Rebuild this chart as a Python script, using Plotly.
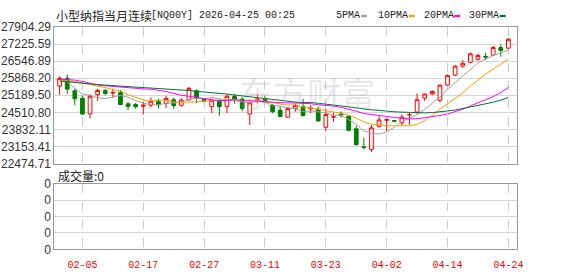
import plotly.graph_objects as go

# ---------------- data ----------------
dates = ["02-02", "02-03", "02-04", "02-05", "02-06", "02-09", "02-10", "02-11", "02-12", "02-13",
         "02-16", "02-17", "02-18", "02-19", "02-20", "02-23", "02-24", "02-25", "02-26", "02-27",
         "03-02", "03-03", "03-04", "03-05", "03-06", "03-09", "03-10", "03-11", "03-12", "03-13",
         "03-16", "03-17", "03-18", "03-19", "03-20", "03-23", "03-24", "03-25", "03-26", "03-27",
         "03-30", "03-31", "04-01", "04-02", "04-03", "04-06", "04-07", "04-08", "04-09", "04-10",
         "04-13", "04-14", "04-15", "04-16", "04-17", "04-20", "04-21", "04-22", "04-23", "04-24"]

open_ = [25555, 25868, 25367, 25076, 24454, 25216, 25378, 25276, 25303, 24850,
         24824, 24756, 24794, 24937, 24861, 25012, 24794, 25012, 25367, 25027,
         24737, 24952, 24748, 25140, 25039, 24447, 25020, 25039, 24786, 24597,
         24322, 24662, 24748, 24650, 24635, 23919, 24322, 24447, 24360, 23859,
         23142, 23040, 23957, 24198, 24183, 24096, 24410, 24522, 25076, 25239,
         24990, 25593, 25993, 26347, 26498, 26622, 26735, 26784, 27086, 27063]

high = [25955, 26019, 25453, 25178, 25227, 25453, 25442, 25453, 25404, 24925,
        24888, 24925, 25103, 25050, 25171, 25095, 25076, 25518, 25427, 25076,
        25057, 25039, 25208, 25239, 25114, 24952, 25227, 25178, 24850, 24718,
        24718, 24850, 25039, 24801, 24737, 24662, 24492, 24548, 24386, 23983,
        23504, 24009, 24360, 24266, 24209, 24424, 24492, 25265, 25265, 25389,
        25616, 26019, 26396, 26584, 26897, 26837, 26875, 27150, 27214, 27463]

low = [25208, 25246, 24794, 24416, 24273, 24963, 25189, 25088, 24794, 24605,
       24650, 24424, 24707, 24662, 24680, 24662, 24737, 24963, 24876, 24907,
       24484, 24379, 24484, 24861, 24548, 24009, 24869, 24888, 24473, 24322,
       24285, 24537, 24341, 24484, 24134, 23757, 24134, 24296, 23757, 23191,
       23040, 22938, 23908, 23757, 24134, 24009, 24021, 24462, 24963, 25201,
       24899, 25567, 25955, 26283, 26460, 26558, 26584, 26747, 26724, 27026]

close = [25857, 25435, 25050, 24447, 25152, 25378, 25265, 25303, 24824, 24748,
         24737, 24794, 24952, 24812, 25065, 24786, 25001, 25465, 25076, 24963,
         24990, 24737, 25152, 25039, 24662, 24888, 25039, 24914, 24537, 24349,
         24662, 24786, 24386, 24673, 24171, 24424, 24341, 24398, 23794, 23229,
         23116, 23896, 24209, 24220, 24160, 24322, 24424, 25012, 25239, 25340,
         25593, 25970, 26347, 26460, 26837, 26773, 26709, 27086, 26973, 27414]

ma5 = [25925, 25717, 25472, 25246, 25188, 25092, 25058, 25109, 25184, 25104,
       24975, 24881, 24811, 24809, 24872, 24882, 24923, 25026, 25079, 25058,
       25099, 25046, 24984, 24976, 24916, 24895, 24956, 24908, 24808, 24745,
       24700, 24650, 24544, 24571, 24536, 24488, 24399, 24401, 24226, 24037,
       23776, 23687, 23649, 23734, 23920, 24162, 24267, 24428, 24631, 24867,
       25122, 25431, 25698, 25942, 26241, 26477, 26625, 26773, 26876, 26991]

ma10 = [25793, 25774, 25736, 25680, 25623, 25548, 25491, 25416, 25359, 25208,
        25095, 25008, 24960, 24996, 24988, 24929, 24902, 24918, 24944, 24965,
        24990, 24985, 25005, 25027, 24987, 24997, 25001, 24946, 24892, 24830,
        24798, 24803, 24726, 24689, 24640, 24594, 24524, 24473, 24398, 24286,
        24132, 24043, 24025, 23980, 23979, 23969, 23977, 24038, 24183, 24394,
        24642, 24849, 25063, 25287, 25554, 25800, 26028, 26235, 26409, 26616]

ma20 = [25830, 25812, 25793, 25736, 25668, 25604, 25567, 25536, 25518, 25491,
        25461, 25442, 25431, 25397, 25340, 25265, 25189, 25152, 25095, 25055,
        25012, 24977, 24982, 25012, 24987, 24963, 24952, 24932, 24918, 24898,
        24894, 24893, 24865, 24858, 24814, 24795, 24763, 24709, 24645, 24558,
        24465, 24423, 24375, 24335, 24309, 24281, 24251, 24256, 24291, 24340,
        24387, 24446, 24544, 24633, 24766, 24884, 25002, 25137, 25296, 25505]

ma30 = [25755, 25725, 25687, 25649, 25631, 25612, 25593, 25574, 25559, 25548,
        25536, 25518, 25499, 25480, 25461, 25435, 25404, 25378, 25348, 25325,
        25303, 25272, 25238, 25201, 25163, 25125, 25091, 25057, 25020, 24981,
        24941, 24919, 24897, 24904, 24872, 24840, 24809, 24779, 24745, 24694,
        24640, 24610, 24585, 24565, 24535, 24520, 24501, 24486, 24491, 24504,
        24524, 24565, 24605, 24652, 24725, 24788, 24843, 24915, 24997, 25099]

volume = [0, 0, 0, 0, 0, 0, 0, 0, 0, 0, 0, 0, 0, 0, 0, 0, 0, 0, 0, 0,
          0, 0, 0, 0, 0, 0, 0, 0, 0, 0, 0, 0, 0, 0, 0, 0, 0, 0, 0, 0,
          0, 0, 0, 0, 0, 0, 0, 0, 0, 0, 0, 0, 0, 0, 0, 0, 0, 0, 0, 0]

price_ticks = [22474.71, 23153.41, 23832.11, 24510.80, 25189.50, 25868.20, 26546.89, 27225.59, 27904.29]
price_tick_labels = ["22474.71", "23153.41", "23832.11", "24510.80", "25189.50",
                     "25868.20", "26546.89", "27225.59", "27904.29"]
vol_ticks = [0, 1, 2, 3, 4]
vol_tick_labels = ["0", "0", "0", "0", "0"]
date_ticks = ["02-05", "02-17", "02-27", "03-11", "03-23", "04-02", "04-14", "04-24"]

ma_names = ["5PMA", "10PMA", "20PMA", "30PMA"]
ma_colors = ["#a0a0a0", "#f5a000", "#ff00ff", "#00733a"]

title_cn = "小型纳指当月连续"
title_code = "[NQ00Y] 2026-04-25 00:25"
vol_label = "成交量:0"

# ---------------- layout constants ----------------
W, H = 578, 276
def px(x):
    return x / W
def py(y):
    return 1 - y / H

XL, XR = 55, 522.7
MAIN_T, MAIN_B = 21, 165
VOL_T, VOL_B = 186.3, 255.3

BORDER = "#9a9a9a"
GRID = "#d6d6d6"
MONO = "Liberation Mono, DejaVu Sans Mono, monospace"
CJK = "Noto Sans CJK SC, sans-serif"

fig = go.Figure()

fig.add_trace(go.Candlestick(
    x=dates, open=open_, high=high, low=low, close=close,
    increasing=dict(line=dict(color="#ff0000", width=1), fillcolor="#ffffff"),
    decreasing=dict(line=dict(color="#008000", width=1), fillcolor="#008000"),
    whiskerwidth=0, xaxis="x", yaxis="y", showlegend=False, hoverinfo="skip"))

for name, vals, col in zip(ma_names, [ma5, ma10, ma20, ma30], ma_colors):
    fig.add_trace(go.Scatter(x=dates, y=vals, mode="lines", name=name,
                             line=dict(color=col, width=1), xaxis="x", yaxis="y",
                             showlegend=False, hoverinfo="skip"))

fig.add_trace(go.Bar(x=dates, y=volume, xaxis="x2", yaxis="y2",
                     marker_color="#ff0000", showlegend=False, hoverinfo="skip"))

xr = [-(60.24 - XL) / 7.686, (XR - 60.24) / 7.686]

common_x = dict(type="category", range=xr, tickvals=date_ticks, showgrid=True,
                gridcolor="#cccccc", griddash="dash", gridwidth=1,
                showline=True, mirror=True, linecolor=BORDER, linewidth=1,
                zeroline=False, fixedrange=True, domain=[px(XL), px(XR)])

fig.update_layout(
    width=W, height=H, margin=dict(l=0, r=0, t=0, b=0),
    paper_bgcolor="white", plot_bgcolor="white", showlegend=False,
    xaxis=dict(**common_x, anchor="y", showticklabels=False, ticks="",
               rangeslider=dict(visible=False)),
    xaxis2=dict(**common_x, anchor="y2", matches="x", showticklabels=True,
                ticks="outside", ticklen=6, tickcolor="rgba(0,0,0,0)",
                tickfont=dict(family=MONO, size=10, color="#ff0000")),
    yaxis=dict(domain=[py(MAIN_B), py(MAIN_T)], range=[price_ticks[0], price_ticks[-1]],
               tickvals=price_ticks, ticktext=price_tick_labels,
               showgrid=True, gridcolor=GRID, gridwidth=1, zeroline=False,
               showline=True, mirror=True, linecolor=BORDER, linewidth=1,
               ticks="", tickfont=dict(family="Liberation Sans, Arial, sans-serif", size=12, color="#333333")),
    yaxis2=dict(domain=[py(VOL_B), py(VOL_T)], range=[0, 4],
                tickvals=vol_ticks, ticktext=vol_tick_labels,
                showgrid=True, gridcolor=GRID, gridwidth=1, zeroline=False,
                showline=True, mirror=True, linecolor=BORDER, linewidth=1,
                ticks="", tickfont=dict(family="Liberation Sans, Arial, sans-serif", size=12, color="#333333")),
)

ann = []
# watermark
ann.append(dict(x=px(310), y=py(90), xref="paper", yref="paper", text="东方财富",
                xanchor="center", yanchor="middle",
                showarrow=False, font=dict(family=CJK, size=34, color="rgba(160,160,172,0.25)")))
# title
ann.append(dict(x=px(55), y=py(9), xref="paper", yref="paper", text=title_cn, xanchor="left",
                yanchor="middle", showarrow=False, font=dict(family=CJK, size=12, color="#222222")))
ann.append(dict(x=px(151), y=py(9), xref="paper", yref="paper", text=title_code, xanchor="left",
                yanchor="middle", showarrow=False, font=dict(family=MONO, size=10, color="#222222")))
# volume label
ann.append(dict(x=px(57), y=py(177.7), xref="paper", yref="paper", text=vol_label, xanchor="left",
                yanchor="middle", showarrow=False, font=dict(family=CJK, size=12, color="#222222")))

# MA legend
legend_x = [338, 380, 426, 472]
dash_x = [365, 413, 459, 505]
shapes = []
for name, col, lx, dx in zip(ma_names, ma_colors, legend_x, dash_x):
    ann.append(dict(x=px(lx), y=py(9), xref="paper", yref="paper", text=name, xanchor="left",
                    yanchor="middle", showarrow=False, font=dict(family=MONO, size=10, color="#222222")))
    shapes.append(dict(type="rect", xref="paper", yref="paper", x0=px(dx), x1=px(dx + 6),
                       y0=py(10.7), y1=py(8.3), fillcolor=col, line=dict(width=0)))

fig.update_layout(annotations=ann, shapes=shapes)

fig.write_html("out.html")
